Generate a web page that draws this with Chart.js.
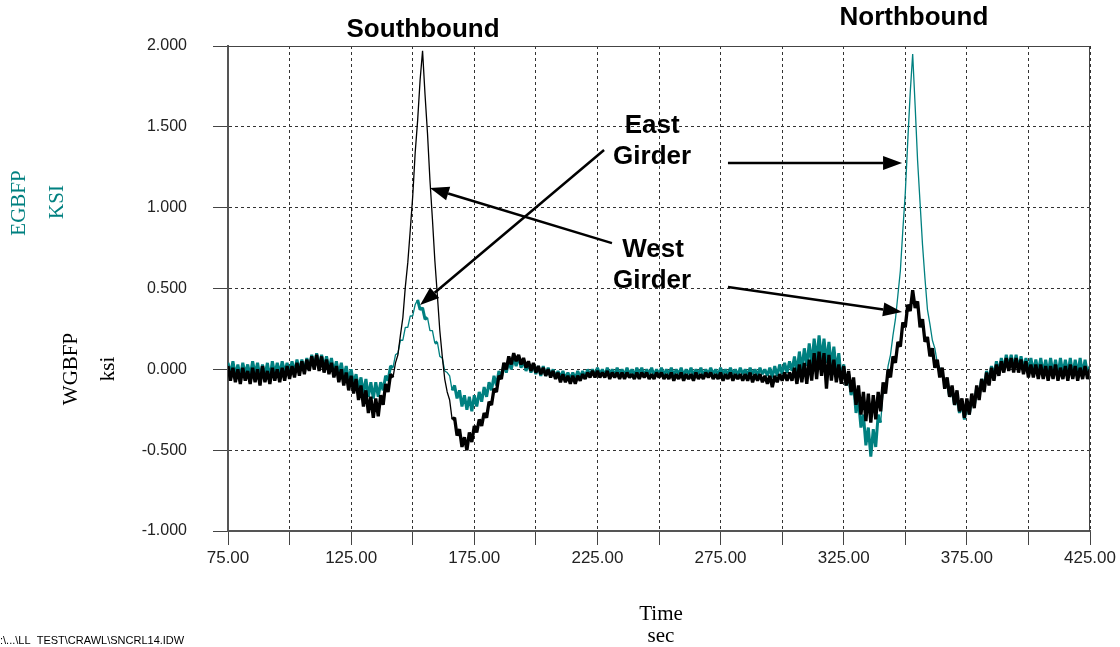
<!DOCTYPE html>
<html><head><meta charset="utf-8">
<script src="https://cdn.jsdelivr.net/npm/chart.js@4.4.0/dist/chart.umd.min.js"></script>
<style>html,body{margin:0;padding:0;background:#fff;}canvas{display:block;}</style>
</head><body>
<canvas id="c" width="1120" height="647"></canvas>
<script>
// Time (sec)
const timeSec = [
75,76,77,78,79,80,81,82,83,84,85,86,87,88,89,90,91,92,93,94,
95,96,97,98,99,100,101,102,103,104,105,106,107,108,109,110,111,112,113,114,
115,116,117,118,119,120,121,122,123,124,125,126,127,128,129,130,131,132,133,134,
135,136,137,138,139,140,141,142,143,144,145,146,147,148,149,150,151,152,153,154,
155,156,157,158,159,160,161,162,163,164,165,166,167,168,169,170,171,172,173,174,
175,176,177,178,179,180,181,182,183,184,185,186,187,188,189,190,191,192,193,194,
195,196,197,198,199,200,201,202,203,204,205,206,207,208,209,210,211,212,213,214,
215,216,217,218,219,220,221,222,223,224,225,226,227,228,229,230,231,232,233,234,
235,236,237,238,239,240,241,242,243,244,245,246,247,248,249,250,251,252,253,254,
255,256,257,258,259,260,261,262,263,264,265,266,267,268,269,270,271,272,273,274,
275,276,277,278,279,280,281,282,283,284,285,286,287,288,289,290,291,292,293,294,
295,296,297,298,299,300,301,302,303,304,305,306,307,308,309,310,311,312,313,314,
315,316,317,318,319,320,321,322,323,324,325,326,327,328,329,330,331,332,333,334,
335,336,337,338,339,340,341,342,343,344,345,346,347,348,349,350,351,352,353,354,
355,356,357,358,359,360,361,362,363,364,365,366,367,368,369,370,371,372,373,374,
375,376,377,378,379,380,381,382,383,384,385,386,387,388,389,390,391,392,393,394,
395,396,397,398,399,400,401,402,403,404,405,406,407,408,409,410,411,412,413,414,
415,416,417,418,419,420,421,422,423,424,425];

// West girder bottom flange (WGBFP), ksi
const westGirderKsi = [
0.02,-0.07,0.01,-0.08,0,-0.09,0.01,-0.07,-0.01,-0.09,
0.01,-0.08,0,-0.10,0.02,-0.08,-0.01,-0.09,0.01,-0.07,
0,-0.08,0.01,-0.07,0.02,-0.06,0.02,-0.05,0.04,-0.04,
0.05,-0.03,0.06,-0.01,0.08,0,0.09,-0.01,0.08,-0.02,
0.06,-0.03,0.04,-0.05,0.02,-0.08,0,-0.10,-0.02,-0.13,
-0.04,-0.15,-0.06,-0.19,-0.10,-0.23,-0.13,-0.27,-0.17,-0.30,
-0.18,-0.29,-0.16,-0.22,-0.09,-0.14,-0.03,-0.05,0.04,0.09,
0.21,0.32,0.51,0.66,0.86,1.07,1.34,1.54,1.79,1.97,
1.70,1.46,1.17,0.93,0.67,0.46,0.24,0.08,-0.06,-0.14,
-0.19,-0.31,-0.30,-0.41,-0.37,-0.48,-0.42,-0.50,-0.39,-0.45,
-0.35,-0.39,-0.31,-0.35,-0.27,-0.30,-0.20,-0.22,-0.12,-0.14,
-0.04,-0.06,0.04,0,0.08,0.03,0.10,0.05,0.09,0.03,
0.07,0.01,0.05,-0.01,0.04,-0.02,0.02,-0.03,0.01,-0.04,
0,-0.05,-0.01,-0.06,-0.02,-0.08,-0.03,-0.08,-0.04,-0.09,
-0.04,-0.09,-0.04,-0.07,-0.03,-0.06,-0.02,-0.05,-0.01,-0.05,
-0.01,-0.05,-0.02,-0.05,-0.01,-0.06,-0.02,-0.05,-0.02,-0.06,
-0.02,-0.06,-0.02,-0.05,-0.03,-0.06,-0.02,-0.06,-0.02,-0.05,
-0.02,-0.06,-0.03,-0.06,-0.02,-0.05,-0.02,-0.06,-0.03,-0.06,
-0.02,-0.07,-0.03,-0.06,-0.02,-0.07,-0.03,-0.06,-0.03,-0.07,
-0.02,-0.06,-0.03,-0.06,-0.02,-0.05,-0.02,-0.06,-0.03,-0.06,
-0.02,-0.07,-0.03,-0.06,-0.02,-0.07,-0.03,-0.06,-0.03,-0.07,
-0.03,-0.07,-0.02,-0.08,-0.03,-0.07,-0.03,-0.08,-0.04,-0.09,
-0.04,-0.11,-0.04,-0.08,-0.03,-0.07,-0.02,-0.07,-0.02,-0.07,
0.01,-0.09,0.03,-0.08,0.04,-0.09,0.06,-0.07,0.10,-0.06,
0.11,-0.04,0.10,-0.12,0.09,-0.07,0.06,-0.08,0.03,-0.09,
0.02,-0.10,-0.01,-0.14,-0.05,-0.22,-0.10,-0.28,-0.14,-0.32,
-0.15,-0.33,-0.16,-0.31,-0.14,-0.26,-0.08,-0.15,0,-0.05,
0.08,0.04,0.17,0.14,0.29,0.26,0.40,0.36,0.49,0.38,
0.42,0.26,0.31,0.17,0.20,0.08,0.13,0.01,0.06,-0.05,
0.01,-0.12,-0.05,-0.17,-0.10,-0.22,-0.13,-0.26,-0.18,-0.30,
-0.18,-0.28,-0.15,-0.24,-0.10,-0.19,-0.06,-0.14,-0.02,-0.10,
0.01,-0.07,0.03,-0.04,0.05,-0.02,0.07,-0.01,0.07,-0.02,
0.07,-0.02,0.06,-0.03,0.05,-0.05,0.03,-0.05,0.03,-0.06,
0.03,-0.06,0.02,-0.07,0.02,-0.06,0.03,-0.07,0.01,-0.06,
0.02,-0.07,0.03,-0.06,0.02,-0.07,0.01,-0.06,0.02,-0.06,0];

// East girder bottom flange (EGBFP), KSI
const eastGirderKsi = [
0.04,-0.03,0.05,-0.04,0.03,-0.05,0.04,-0.03,0.03,-0.04,
0.05,-0.03,0.04,-0.05,0.03,-0.04,0.04,-0.06,0.05,-0.03,
0.04,-0.03,0.05,-0.02,0.04,-0.03,0.05,-0.02,0.06,-0.01,
0.06,-0.01,0.07,0,0.09,0.02,0.10,0.01,0.09,0.01,
0.08,0,0.07,-0.02,0.05,-0.03,0.04,-0.05,0.02,-0.07,
0,-0.09,-0.03,-0.12,-0.05,-0.15,-0.06,-0.17,-0.08,-0.18,
-0.08,-0.17,-0.08,-0.13,-0.04,-0.07,0.02,0.01,0.09,0.10,
0.18,0.18,0.26,0.26,0.33,0.33,0.40,0.43,0.37,0.38,
0.31,0.32,0.24,0.24,0.16,0.17,0.08,0.07,-0.01,-0.02,
-0.04,-0.13,-0.10,-0.18,-0.13,-0.23,-0.16,-0.25,-0.17,-0.26,
-0.16,-0.23,-0.14,-0.20,-0.11,-0.17,-0.08,-0.13,-0.04,-0.10,
-0.01,-0.05,0.03,-0.02,0.05,0,0.07,0.02,0.08,0.01,
0.06,-0.01,0.04,-0.02,0.03,-0.03,0.02,-0.04,0.02,-0.04,
0.01,-0.04,0,-0.05,-0.01,-0.05,-0.01,-0.06,-0.02,-0.06,
-0.02,-0.06,-0.01,-0.05,-0.01,-0.05,0,-0.04,0,-0.04,
0.01,-0.03,0,-0.04,0.01,-0.03,0,-0.04,0.01,-0.03,
0,-0.04,0.01,-0.03,0,-0.04,0.01,-0.03,0.01,-0.04,
0,-0.03,0.01,-0.04,0,-0.03,0.01,-0.04,0,-0.03,
0.01,-0.04,0,-0.03,0.01,-0.04,0,-0.03,0.01,-0.04,
0,-0.03,0.01,-0.04,0,-0.03,0.01,-0.03,0,-0.04,
0.01,-0.03,0,-0.04,0.01,-0.03,0,-0.04,0.01,-0.03,
0,-0.04,0.01,-0.03,0,-0.04,0.01,-0.03,0,-0.04,
0.01,-0.05,0.02,-0.04,0.03,-0.03,0.04,-0.02,0.05,-0.01,
0.08,-0.02,0.11,0,0.13,0.02,0.16,0.03,0.19,0.05,
0.21,0.06,0.19,0.04,0.17,0.02,0.14,-0.01,0.10,-0.06,
0.03,-0.10,-0.03,-0.16,-0.09,-0.27,-0.19,-0.36,-0.28,-0.47,
-0.36,-0.54,-0.37,-0.48,-0.28,-0.33,-0.13,-0.12,0.02,0.09,
0.21,0.31,0.46,0.61,0.86,1.09,1.41,1.71,1.95,1.63,
1.29,1.03,0.77,0.56,0.37,0.28,0.18,0.13,0.04,0.01,
-0.01,-0.10,-0.07,-0.17,-0.12,-0.22,-0.17,-0.27,-0.21,-0.31,
-0.21,-0.28,-0.17,-0.23,-0.11,-0.16,-0.06,-0.11,-0.01,-0.07,
0.02,-0.04,0.05,-0.02,0.07,0,0.09,0.01,0.09,0.01,
0.09,0,0.08,0,0.07,-0.01,0.07,-0.02,0.06,-0.02,
0.07,-0.03,0.06,-0.03,0.07,-0.03,0.06,-0.04,0.07,-0.03,
0.06,-0.03,0.07,-0.04,0.06,-0.03,0.07,-0.03,0.06,-0.03,0.02];

const xLabelValues = [75,125,175,225,275,325,375,425];
const seriesNames = ['WGBFP', 'EGBFP'];

// annotation texts/arrows placed in data units (sec, ksi)
const annotationTexts = [
  {text:'Southbound', at:[154.2, 2.099]},
  {text:'Northbound', at:[353.5, 2.173]},
  {text:'East',   at:[247.2, 1.505]},
  {text:'Girder', at:[247.2, 1.313]},
  {text:'West',   at:[247.6, 0.738]},
  {text:'Girder', at:[247.2, 0.547]}
];
const arrows = [
  {from:[227.7, 1.357], to:[153.0, 0.398]},
  {from:[230.9, 0.781], to:[157.0, 1.122]},
  {from:[278.0, 1.276], to:[348.7, 1.276]},
  {from:[278.0, 0.509], to:[348.7, 0.354]}
];

// thicker stroke where the trace reverses direction (noisy band), thin on clean ramps
function noisyWidth(arr, thick, thin) {
  return c => {
    const i = c.p0DataIndex;
    const a = arr[i + 1] - arr[i];
    const b = i > 0 ? arr[i] - arr[i - 1] : -a;
    const n = i + 2 < arr.length ? arr[i + 2] - arr[i + 1] : -a;
    return (a * b < 0 && a * n < 0) ? thick : thin;
  };
}

const overlay = {
  id: 'overlay',
  afterDraw(chart) {
    const {ctx, chartArea: a, scales: {x, y}} = chart;
    ctx.save();
    ctx.strokeStyle = '#444'; ctx.lineWidth = 1;
    ctx.beginPath();
    ctx.moveTo(a.left, a.top + 0.5); ctx.lineTo(a.right, a.top + 0.5);
    ctx.moveTo(a.right - 0.5, a.top); ctx.lineTo(a.right - 0.5, a.bottom);
    ctx.stroke();

    arrows.forEach(ar => {
      const x1 = x.getPixelForValue(ar.from[0]), y1 = y.getPixelForValue(ar.from[1]);
      const x2 = x.getPixelForValue(ar.to[0]), y2 = y.getPixelForValue(ar.to[1]);
      const ang = Math.atan2(y2 - y1, x2 - x1), hl = 19, hw = 7;
      const bx = x2 - hl * Math.cos(ang), by = y2 - hl * Math.sin(ang);
      ctx.strokeStyle = '#000'; ctx.lineWidth = 2.5;
      ctx.beginPath(); ctx.moveTo(x1, y1); ctx.lineTo(bx, by); ctx.stroke();
      ctx.fillStyle = '#000';
      ctx.beginPath(); ctx.moveTo(x2, y2);
      ctx.lineTo(bx - hw * Math.sin(ang), by + hw * Math.cos(ang));
      ctx.lineTo(bx + hw * Math.sin(ang), by - hw * Math.cos(ang));
      ctx.closePath(); ctx.fill();
    });

    ctx.fillStyle = '#000';
    ctx.font = 'bold 26px "Liberation Sans", Arial, sans-serif';
    ctx.textAlign = 'center'; ctx.textBaseline = 'middle';
    annotationTexts.forEach(t => {
      ctx.fillText(t.text, x.getPixelForValue(t.at[0]), y.getPixelForValue(t.at[1]));
    });

    // vertical axis titles
    ctx.font = '21px "Liberation Serif", "Times New Roman", serif';
    const rot = (txt, cx, cy, col) => {
      ctx.save(); ctx.translate(cx, cy); ctx.rotate(-Math.PI / 2);
      ctx.fillStyle = col; ctx.fillText(txt, 0, 0); ctx.restore();
    };
    rot('EGBFP', 19, 203, '#008080');
    rot('KSI', 57, 202, '#008080');
    rot('WGBFP', 71, 369, '#000');
    rot('ksi', 108, 369, '#000');

    // x axis title
    ctx.fillStyle = '#000';
    ctx.fillText('Time', 661, 614);
    ctx.fillText('sec', 661, 636);

    // file path
    ctx.font = '11px "Liberation Sans", Arial, sans-serif';
    ctx.textAlign = 'left';
    ctx.fillText(':\\...\\LL  TEST\\CRAWL\\SNCRL14.IDW', 0, 641);
    ctx.restore();
  }
};

new Chart(document.getElementById('c'), {
  type: 'line',
  data: {
    datasets: [
      {label: seriesNames[0], data: timeSec.map((t, i) => ({x: t, y: westGirderKsi[i]})),
       borderColor: '#000', borderWidth: 1.3, pointRadius: 0, tension: 0, fill: false,
       borderJoinStyle: 'bevel', segment: {borderWidth: noisyWidth(westGirderKsi, 3.3, 1.3)}},
      {label: seriesNames[1], data: timeSec.map((t, i) => ({x: t, y: eastGirderKsi[i]})),
       borderColor: '#008080', borderWidth: 1.3, pointRadius: 0, tension: 0, fill: false,
       borderJoinStyle: 'bevel', segment: {borderWidth: noisyWidth(eastGirderKsi, 3.0, 1.3)}}
    ]
  },
  options: {
    responsive: false, animation: false, events: [],
    layout: {padding: {top: 46, right: 30, left: 0, bottom: 0}},
    plugins: {legend: {display: false}, tooltip: {enabled: false}, title: {display: false}},
    scales: {
      x: {
        type: 'linear', min: 75, max: 425,
        afterFit: s => { s.height = 116; },
        ticks: {stepSize: 25, autoSkip: false, maxRotation: 0, padding: 3, color: '#222',
          font: {family: '"Liberation Sans", Arial, sans-serif', size: 17},
          callback: v => xLabelValues.includes(v) ? v.toFixed(2) : ''},
        grid: {color: '#333', lineWidth: 1, tickLength: 14, tickColor: '#444', drawTicks: true},
        border: {display: true, color: '#555', width: 2, dash: [3, 3]}
      },
      y: {
        type: 'linear', min: -1, max: 2,
        afterFit: s => { s.width = 228; },
        ticks: {stepSize: 0.5, padding: 26, color: '#222',
          font: {family: '"Liberation Sans", Arial, sans-serif', size: 16},
          callback: v => v.toFixed(3)},
        grid: {color: '#333', lineWidth: 1, tickLength: 15, tickColor: '#444', drawTicks: true},
        border: {display: true, color: '#555', width: 2, dash: [3, 3]}
      }
    }
  },
  plugins: [overlay]
});
</script>
</body></html>
